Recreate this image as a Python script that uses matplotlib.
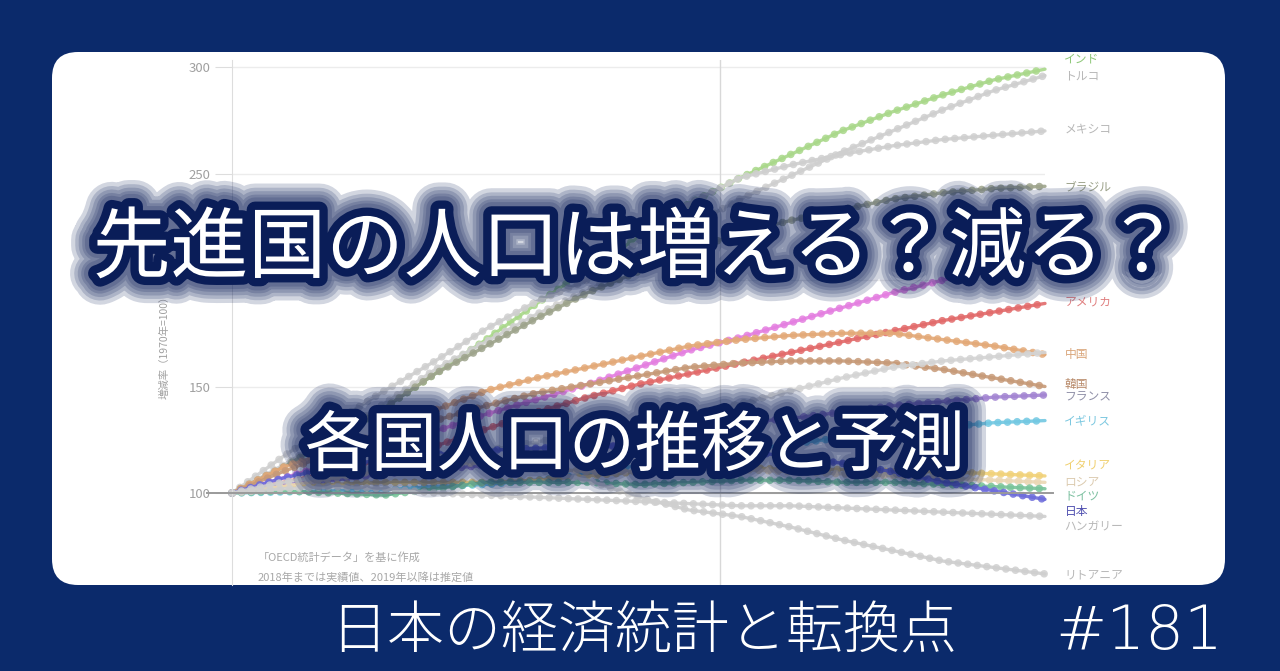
import matplotlib
matplotlib.use('Agg')
import matplotlib.pyplot as plt
import matplotlib.patheffects as pe
from matplotlib.patches import FancyBboxPatch

plt.rcParams['font.family'] = ['Noto Sans CJK JP', 'DejaVu Sans']

# years sampled every 5 years, 1970=100
years = [1970, 1975, 1980, 1985, 1990, 1995, 2000, 2005, 2010,
         2015, 2020, 2025, 2030, 2035, 2040, 2045, 2050]

india = [100, 112, 125, 140, 156, 172, 189, 205, 220, 236, 248, 259, 270, 279, 287, 294, 299]
turkey = [100, 113, 127, 142, 158, 171, 184, 195, 208, 225, 238, 249, 260, 270, 280, 289, 296]
mexico = [100, 117, 133, 148, 162, 177, 190, 200, 218, 236, 248, 254, 259, 263, 266, 268, 270]
brazil = [100, 112, 126, 140, 156, 169, 182, 194, 204, 214, 222, 228, 233, 238, 241, 243, 244]
pink = [100, 107, 114, 120, 129, 137, 144, 151, 159, 167, 173, 180, 187, 194, 200, 206, 211]
usa = [100, 105, 110, 116, 122, 130, 138, 145, 151, 156, 161, 166, 171, 176, 181, 185, 189]
china = [100, 112, 120, 129, 139, 148, 154, 159, 164, 169, 172, 174, 175, 175, 172, 169, 165]
korea = [100, 110, 119, 127, 134, 141, 147, 151, 155, 159, 161, 162, 162, 161, 158, 154, 150]
other = [100, 104, 108, 112, 116, 120, 124, 128, 132, 137, 142, 148, 154, 159, 162, 164, 166]
france = [100, 104, 106, 109, 111, 113, 116, 120, 124, 130, 133, 135, 138, 141, 143, 145, 146]
uk = [100, 100.5, 101, 101.5, 103, 104, 106, 109, 113, 117, 120, 123, 126, 129, 131, 133, 134]
italy = [100, 103, 104, 105, 105, 105, 106, 108, 110, 112, 112, 111, 111, 110, 110, 109, 108]
russia = [100, 103, 107, 111, 114, 114, 112, 110, 110, 111, 111, 110, 109, 108, 107, 106, 105]
germany = [100, 101, 100, 99, 102, 105, 105, 105, 104, 105, 106, 106, 105, 105, 104, 103, 102]
japan = [100, 107, 112, 116, 118, 120, 121, 122, 122, 121, 120, 117, 114, 110, 105, 101, 97]
hungary = [100, 102, 103, 102, 100, 99, 98, 97, 96, 95, 94, 94, 93, 92, 91, 90, 89]
lithuania = [100, 105, 109, 113, 117, 115, 111, 106, 98, 92, 89, 84, 78, 73, 68, 65, 62]

names = ['インド', 'トルコ', 'メキシコ', 'ブラジル', '', 'アメリカ', '中国', '韓国', '',
         'フランス', 'イギリス', 'イタリア', 'ロシア', 'ドイツ', '日本', 'ハンガリー', 'リトアニア']
series = [india, turkey, mexico, brazil, pink, usa, china, korea, other,
          france, uk, italy, russia, germany, japan, hungary, lithuania]
colors = ['#a9d88a', '#cfcfcf', '#cfcfcf', '#9ea48c', '#e47fe0', '#e26a6a', '#e3a978',
          '#c79a78', '#d4d4d4', '#a385d2', '#72c8e2', '#f1d27a', '#ead7b4', '#79c49a',
          '#6d6cdb', '#cfcfcf', '#cfcfcf']
label_colors = ['#8fc87a', '#b8b8b8', '#b8b8b8', '#9aa088', None, '#e08080', '#d9a57a',
                '#b88a6a', None, '#9090a8', '#7cc8e0', '#f0d070', '#dccbb0', '#7cc0a0',
                '#5050b0', '#b8b8b8', '#b8b8b8']
# label heights (value units) at the right end
label_y = [304, 296, 271, 243.5, None, 189.5, 165, 151, None,
           145, 134, 112.5, 105.2, 98.6, 91.5, 84, 61.5]

navy = '#0b2a6b'
deep = '#0a1d58'
fig = plt.figure(figsize=(12.8, 6.71), dpi=100)
fig.patch.set_facecolor(navy)

# background panel in pixel coords
bg = fig.add_axes([0, 0, 1, 1], zorder=0)
bg.set_xlim(0, 1280)
bg.set_ylim(671, 0)
bg.axis('off')
bg.add_patch(FancyBboxPatch((52, 52), 1173, 533,
                            boxstyle='round,pad=0,rounding_size=26',
                            facecolor='white', edgecolor='none'))

W, H = 1280, 671
ax = fig.add_axes([232 / W, 1 - 585 / H, (1045 - 232) / W, (585 - 60) / H], zorder=1)
ax.patch.set_alpha(0)
ax.set_xlim(1970, 2050)
ax.set_ylim(56.8, 303.3)
for s in ['top', 'right', 'bottom']:
    ax.spines[s].set_visible(False)
ax.spines['left'].set_color('#dddddd')
ax.set_xticks([])
ax.set_yticks([100, 150, 250, 300])
ax.tick_params(axis='y', colors='#dddddd', labelcolor='#a0a0a0', labelsize=9.5, length=12)
ax.grid(axis='y', color='#ececec', lw=1)
ax.axhline(200, color='#ececec', lw=1)
ax.axvline(2018, color='#d8d8d8', lw=1)

for vals, c in zip(series, colors):
    ax.plot(years, vals, color=c, lw=2.4, alpha=0.9, solid_capstyle='round', clip_on=False)
    ax.plot(years, vals, color=c, lw=5.5, linestyle=(0, (0.01, 1.25)),
            dash_capstyle='round', alpha=0.85, clip_on=False)

ax.plot([1967.5, 2050.8], [100, 100], color='#9a9a9a', lw=1.4, clip_on=False, zorder=5)

for n, ly, lc in zip(names, label_y, label_colors):
    if n:
        ax.annotate(n, xy=(2050, ly), xytext=(14, 0), textcoords='offset points',
                    va='center', ha='left', fontsize=8.5, color=lc,
                    annotation_clip=False)

fig.text(165 / W, 1 - 345 / H, '増減率（1970年=100）', rotation=90, ha='center', va='center',
         fontsize=7.5, color='#a0a0a0')
fig.text(258 / W, 1 - 557 / H, '「OECD統計データ」を基に作成', fontsize=8, color='#a8a8a8',
         va='center')
fig.text(258 / W, 1 - 577 / H, '2018年までは実績値、2019年以降は推定値', fontsize=8,
         color='#a8a8a8', va='center')

# soft dark halo behind the overlay titles
glow = [pe.withStroke(linewidth=w, foreground=deep, alpha=0.18) for w in (38, 32, 27, 22, 18)]
glow.append(pe.withStroke(linewidth=12, foreground=deep))
fig.text(637 / W, 1 - 250 / H, '先進国の人口は増える？減る？', ha='center', va='center',
         fontsize=56, color='white', path_effects=glow, zorder=10)
fig.text(635 / W, 1 - 447 / H, '各国人口の推移と予測', ha='center', va='center',
         fontsize=47.5, color='white', path_effects=glow, zorder=10)

fig.text(330 / W, 1 - 632 / H, '日本の経済統計と転換点', ha='left', va='center',
         fontsize=41, color='white', fontweight='light')
fig.text(1055 / W, 1 - 632 / H, '#181', ha='left', va='center',
         fontsize=44, color='white', fontweight='light', family='DejaVu Sans')

fig.savefig('out.png', dpi=100, facecolor=navy)
